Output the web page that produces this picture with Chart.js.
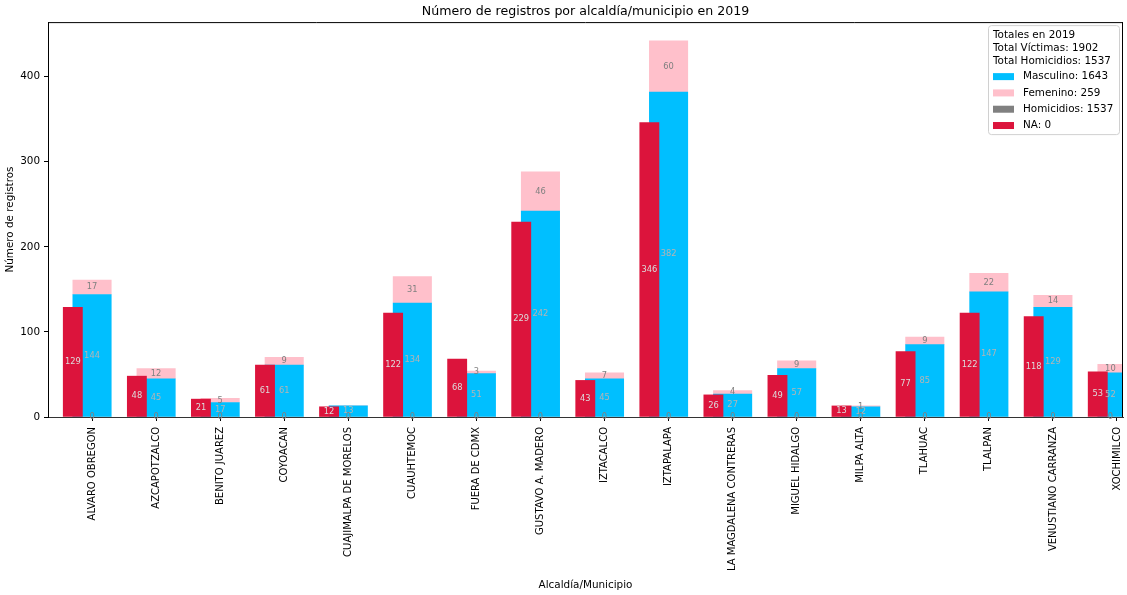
<!DOCTYPE html>
<html><head><meta charset="utf-8">
<script src="https://cdn.jsdelivr.net/npm/chart.js@4/dist/chart.umd.min.js"></script>
<style>html,body{margin:0;padding:0;background:#fff;overflow:hidden;}</style>
</head><body>
<canvas id="c" width="1127" height="595"></canvas>
<script>
const categories = ['ALVARO OBREGON','AZCAPOTZALCO','BENITO JUAREZ','COYOACAN','CUAJIMALPA DE MORELOS','CUAUHTEMOC','FUERA DE CDMX','GUSTAVO A. MADERO','IZTACALCO','IZTAPALAPA','LA MAGDALENA CONTRERAS','MIGUEL HIDALGO','MILPA ALTA','TLAHUAC','TLALPAN','VENUSTIANO CARRANZA','XOCHIMILCO'];
const homicidios = [129,48,21,61,12,122,68,229,43,346,26,49,13,77,122,118,53];
const masculino  = [144,45,17,61,13,134,51,242,45,382,27,57,12,85,147,129,52];
const femenino   = [17,12,5,9,0,31,3,46,7,60,4,9,1,9,22,14,10];
const noAplica   = [0,0,0,0,0,0,0,0,0,0,0,0,0,0,0,0,0];
const yTicks = [0,100,200,300,400];
const chartTitle = 'Número de registros por alcaldía/municipio en 2019';
const xTitle = 'Alcaldía/Municipio';
const yTitle = 'Número de registros';
const legendYear = 2019;

const sum = a => a.reduce((s,v)=>s+v,0);
const totalVictimas = sum(masculino) + sum(femenino);
const totalHom = sum(homicidios);
const legendHeader = ['Totales en ' + legendYear, 'Total Víctimas: ' + totalVictimas, 'Total Homicidios: ' + totalHom];

const RED='#DC143C', BLUE='#00BFFF', PINK='#FFC0CB', GRAY='#808080';
const legendItems = [
  {text:'Masculino: ' + sum(masculino), color: BLUE},
  {text:'Femenino: ' + sum(femenino), color: PINK},
  {text:'Homicidios: ' + totalHom, color: GRAY},
  {text:'NA: ' + sum(noAplica), color: RED}
];
const FONT = "'DejaVu Sans', sans-serif";
const pts = (arr, off) => arr.map((v,i)=>({x:i+off, y:v}));
const totals = masculino.map((v,i)=>v+femenino[i]);
const yMax = Math.max(...totals) * 1.05;

Chart.defaults.font.family = FONT;
Chart.defaults.font.size = 10.4;
Chart.defaults.color = '#000';

const labelPlugin = {
  id:'barLabels',
  afterDatasetsDraw(chart){
    const ctx = chart.ctx, ca = chart.chartArea;
    ctx.save();
    ctx.font = "8.3px " + FONT;
    ctx.textAlign = 'center';
    ctx.textBaseline = 'middle';
    chart.data.datasets.forEach((ds,di)=>{
      const meta = chart.getDatasetMeta(di);
      meta.data.forEach((el,i)=>{
        const v = ds.data[i].y;
        if (ds.skipZeroLabel && v === 0) return;
        const p = el.getProps(['x','y','base','width'], true);
        const l = Math.max(p.x - p.width/2, ca.left), r = Math.min(p.x + p.width/2, ca.right);
        ctx.fillStyle = ds.labelColor;
        ctx.fillText(String(v), (l+r)/2, (p.y + p.base)/2);
      });
    });
    ctx.restore();
  }
};

const framePlugin = {
  id:'frameLegend',
  afterDraw(chart){
    const ctx = chart.ctx, ca = chart.chartArea;
    ctx.save();
    ctx.strokeStyle = '#000'; ctx.lineWidth = 1;
    ctx.beginPath();
    ctx.moveTo(ca.left, ca.top + 0.5); ctx.lineTo(ca.right, ca.top + 0.5);
    ctx.moveTo(ca.right - 0.5, ca.top); ctx.lineTo(ca.right - 0.5, ca.bottom);
    ctx.stroke();
    // legend box
    const bw = 131, bh = 109;
    const bx = ca.right - 4 - bw, by = ca.top + 3;
    ctx.fillStyle = 'rgba(255,255,255,0.8)';
    ctx.strokeStyle = '#d0d0d0';
    ctx.beginPath();
    ctx.roundRect(bx + 0.5, by + 0.5, bw, bh, 3);
    ctx.fill(); ctx.stroke();
    ctx.font = "10.4px " + FONT;
    ctx.fillStyle = '#000';
    ctx.textAlign = 'left'; ctx.textBaseline = 'middle';
    legendHeader.forEach((t,k)=> ctx.fillText(t, bx + 5, by + 10.5 + k*12.6));
    legendItems.forEach((it,k)=>{
      const yy = by + 51.5 + k*16.3;
      ctx.fillStyle = it.color;
      ctx.fillRect(bx + 5, yy - 3.5, 21, 7);
      ctx.fillStyle = '#000';
      ctx.fillText(it.text, bx + 35, yy);
    });
    ctx.restore();
  }
};

new Chart(document.getElementById('c'), {
  type:'bar',
  data:{ datasets:[
    {label:'Homicidios', data: pts(homicidios,-0.3), backgroundColor: RED, barThickness: 19.2, stack:'h', grouped:false, labelColor:'#dcdcdc'},
    {label:'Masculino', data: pts(masculino,0), backgroundColor: BLUE, barThickness: 38.4, stack:'v', grouped:false, labelColor:'#b4b4b4'},
    {label:'Femenino', data: pts(femenino,0), backgroundColor: PINK, barThickness: 38.4, stack:'v', grouped:false, labelColor:'#808080', skipZeroLabel:true},
    {label:'NA', data: pts(noAplica,0), backgroundColor: GRAY, barThickness: 38.4, stack:'n', grouped:false, labelColor:'#808080'}
  ]},
  options:{
    responsive:false, animation:false, devicePixelRatio:1,
    layout:{padding:{left:0,right:4,top:0,bottom:0}},
    plugins:{
      legend:{display:false}, tooltip:{enabled:false},
      title:{display:true, text: chartTitle, fullSize:false, color:'#000', font:{size:12.6, weight:'normal', family:FONT}, padding:{top:4,bottom:3}}
    },
    scales:{
      x:{
        type:'linear', min:-0.6875, max:16.094, offset:false,
        afterFit(s){ s.height = 178; s.paddingLeft = 0; s.paddingRight = 0; },
        grid:{display:true, offset:false, drawOnChartArea:false, drawTicks:true, tickLength:4, color:'#000'},
        border:{display:true, color:'#333', width:1},
        ticks:{stepSize:1, includeBounds:false, autoSkip:false, minRotation:90, maxRotation:90, padding:6, color:'#000', font:{size:10},
          callback:(v)=> Number.isInteger(v) && categories[v] !== undefined ? categories[v] : ''},
        title:{display:true, text:xTitle, color:'#000', font:{size:10.4}, padding:{top:4,bottom:3}}
      },
      y:{
        stacked:true, min:0, max:yMax,
        afterFit(s){ s.width = 48; },
        afterBuildTicks(s){ s.ticks = yTicks.map(v=>({value:v})); },
        grid:{display:true, drawOnChartArea:false, drawTicks:true, tickLength:4, color:'#000'},
        border:{display:true, color:'#000', width:1},
        ticks:{includeBounds:false, padding:4, color:'#000', font:{size:10.4}},
        title:{display:true, text:yTitle, color:'#000', font:{size:10.4}, padding:{top:4,bottom:4}}
      }
    }
  },
  plugins:[labelPlugin, framePlugin]
});
</script>
</body></html>
